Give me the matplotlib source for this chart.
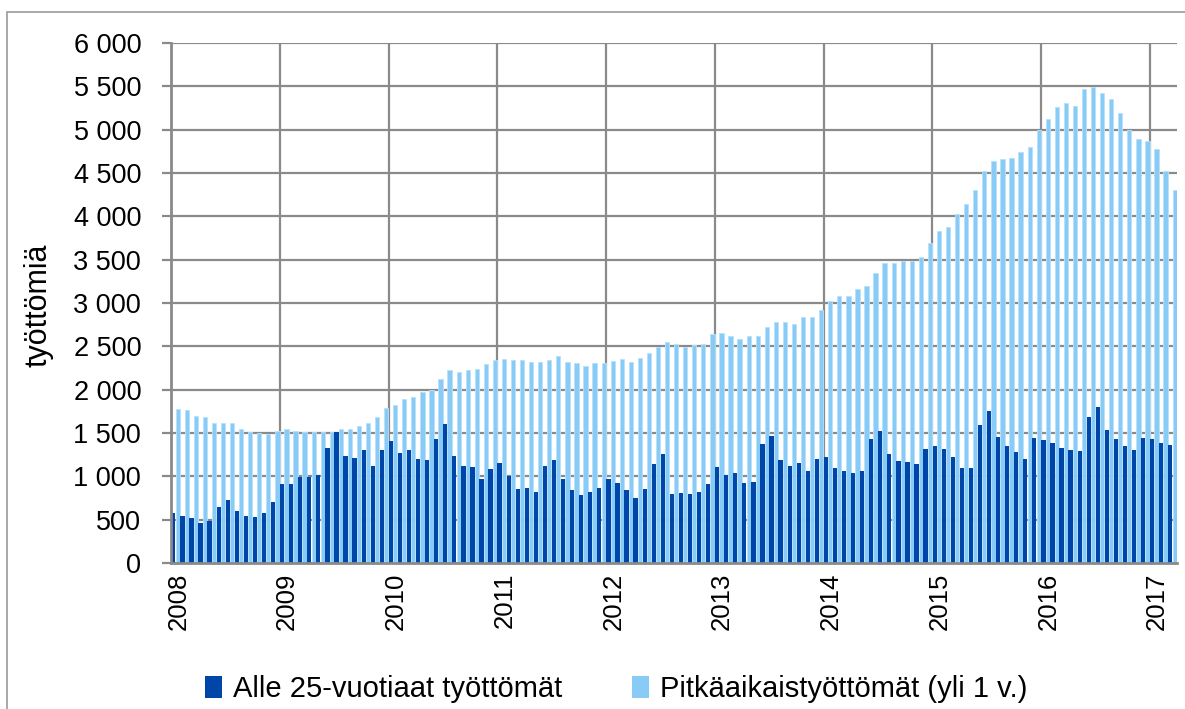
import matplotlib
matplotlib.use("Agg")
import matplotlib.pyplot as plt
from matplotlib.patches import Rectangle, Patch
import numpy as np

plt.rcParams['font.family'] = ['Liberation Sans', 'DejaVu Sans']

years = ["2008", "2009", "2010", "2011", "2012", "2013", "2014", "2015", "2016", "2017"]

# Alle 25-vuotiaat työttömät (monthly, Jan 2008 - Mar 2017)
alle25 = [
    # 2008
    581, 546, 515, 462, 481, 646, 731, 596, 546, 531, 581, 700,
    # 2009
    915, 915, 996, 996, 1011, 1331, 1515, 1231, 1215, 1300, 1115, 1300,
    # 2010
    1403, 1268, 1307, 1203, 1187, 1427, 1604, 1237, 1122, 1110, 975, 1087,
    # 2011
    1153, 1006, 851, 867, 817, 1122, 1187, 975, 840, 790, 817, 871,
    # 2012
    973, 919, 842, 754, 858, 1139, 1254, 792, 808, 792, 819, 912,
    # 2013
    1108, 1019, 1042, 923, 938, 1373, 1469, 1188, 1123, 1150, 1058, 1204,
    # 2014
    1219, 1100, 1066, 1035, 1066, 1435, 1527, 1262, 1181, 1166, 1142, 1315,
    # 2015
    1354, 1315, 1219, 1100, 1100, 1596, 1750, 1450, 1354, 1285, 1196, 1446,
    # 2016
    1416, 1381, 1327, 1300, 1288, 1685, 1796, 1531, 1431, 1350, 1300, 1446,
    # 2017
    1431, 1381, 1365,
]

# Pitkäaikaistyöttömät (yli 1 v.)
pitka = [
    # 2008
    1781, 1761, 1700, 1681, 1619, 1619, 1619, 1550, 1515, 1500, 1488, 1527,
    # 2009
    1550, 1527, 1515, 1515, 1515, 1515, 1550, 1550, 1581, 1619, 1685, 1785,
    # 2010
    1828, 1894, 1921, 1975, 1998, 2122, 2226, 2203, 2226, 2241, 2295, 2338,
    # 2011
    2357, 2338, 2338, 2322, 2322, 2338, 2392, 2322, 2307, 2272, 2307, 2308,
    # 2012
    2335, 2358, 2319, 2369, 2423, 2488, 2554, 2531, 2488, 2519, 2531, 2638,
    # 2013
    2654, 2623, 2585, 2623, 2623, 2719, 2785, 2785, 2754, 2838, 2838, 2915,
    # 2014
    3027, 3081, 3081, 3162, 3200, 3346, 3462, 3462, 3481, 3481, 3531, 3692,
    # 2015
    3827, 3877, 4023, 4146, 4304, 4527, 4635, 4658, 4677, 4738, 4796, 5000,
    # 2016
    5127, 5258, 5312, 5277, 5473, 5492, 5419, 5354, 5192, 4992, 4888, 4873,
    # 2017
    4781, 4527, 4308,
]

series_names = ["Alle 25-vuotiaat työttömät", "Pitkäaikaistyöttömät (yli 1 v.)"]
y_label = "työttömiä"

DARK = "#0046A8"
LIGHT = "#88CBF6"
GRID = "#8A8A8A"

W, H = 1185, 709
fig = plt.figure(figsize=(W / 100, H / 100), dpi=100)
ax = fig.add_axes([171 / W, 1 - 563 / H, (1177 - 171) / W, (563 - 43) / H])

n = len(pitka)
x = np.arange(n)
bw = 0.47
ax.bar(x - 0.24, alle25, width=bw, color=DARK, linewidth=0, zorder=3)
ax.bar(x + 0.24, pitka, width=bw, color=LIGHT, edgecolor="#B9E1FA", linewidth=0.6, zorder=2)

ax.set_xlim(-0.5, n - 0.5)
ax.set_ylim(0, 6000)
yt = np.arange(0, 6001, 500)
ax.set_yticks(yt)
ax.set_yticklabels([f"{v:,}".replace(",", " ") for v in yt], fontsize=19.5)
ax.yaxis.grid(True, color=GRID, linewidth=1.6, zorder=0)

# vertical gridlines at year boundaries
for k in range(1, len(years)):
    ax.axvline(12 * k - 0.5, color=GRID, linewidth=1.6, zorder=0)

ax.set_xticks(np.arange(0, n, 12) + 0.3)
ax.set_xticklabels(years, rotation=90, fontsize=18.5, va="top", ha="center")
ax.tick_params(axis="x", length=0, pad=7)
ax.tick_params(axis="y", length=6.5, width=1.6, color=GRID, pad=15)

for s in ["top", "right"]:
    ax.spines[s].set_visible(False)
for s in ["left", "bottom"]:
    ax.spines[s].set_color(GRID)
    ax.spines[s].set_linewidth(2)
    ax.spines[s].set_zorder(4)

fig.text(38 / W, 1 - 305 / H, y_label, rotation=90, fontsize=22, ha="center", va="center")

handles = [Patch(facecolor=DARK, edgecolor="none"), Patch(facecolor=LIGHT, edgecolor="none")]
fig.legend(handles, series_names, loc="center", bbox_to_anchor=(616 / W, 1 - 689 / H),
           ncol=2, frameon=False, fontsize=21, handlelength=0.6, handleheight=0.8,
           handletextpad=0.35, columnspacing=2.4)

# outer chart border
fig.patches.append(Rectangle((7 / W, -0.1), 1.2, 1 - 12 / H + 0.1, transform=fig.transFigure,
                             fill=False, edgecolor="#9A9A9A", linewidth=1.2))

fig.savefig("out.png", dpi=100)
